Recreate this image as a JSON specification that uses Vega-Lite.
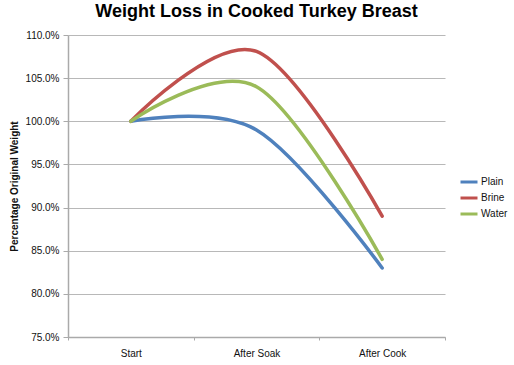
{
  "$schema": "https://vega.github.io/schema/vega-lite/v6.json",
  "width": 377,
  "height": 302,
  "autosize": {"type": "none"},
  "padding": {"left": 68, "top": 35, "right": 69, "bottom": 28},
  "background": "white",
  "title": {
    "text": "Weight Loss in Cooked Turkey Breast",
    "font": "Liberation Sans",
    "fontSize": 18,
    "fontWeight": "bold",
    "color": "#000000",
    "anchor": "middle",
    "offset": 9
  },
  "data": {
    "values": [
      {"stage": "Start", "series": "Plain", "value": 1.0},
      {"stage": "After Soak", "series": "Plain", "value": 0.99},
      {"stage": "After Cook", "series": "Plain", "value": 0.830},
      {"stage": "Start", "series": "Brine", "value": 1.0},
      {"stage": "After Soak", "series": "Brine", "value": 1.081},
      {"stage": "After Cook", "series": "Brine", "value": 0.890},
      {"stage": "Start", "series": "Water", "value": 1.0},
      {"stage": "After Soak", "series": "Water", "value": 1.040},
      {"stage": "After Cook", "series": "Water", "value": 0.840}
    ]
  },
  "mark": {"type": "line", "interpolate": "cardinal", "strokeWidth": 3.5, "strokeCap": "round"},
  "encoding": {
    "x": {
      "field": "stage",
      "type": "nominal",
      "sort": ["Start", "After Soak", "After Cook"],
      "scale": {"type": "band", "paddingInner": 0, "paddingOuter": 0},
      "axis": {
        "title": null,
        "labelAngle": 0,
        "labelFont": "Liberation Sans",
        "labelFontSize": 10,
        "labelColor": "#111111",
        "labelPadding": 8,
        "tickBand": "extent",
        "ticks": true,
        "tickSize": 3,
        "tickColor": "#aaaaaa",
        "domainColor": "#aaaaaa",
        "domainWidth": 1.5,
        "grid": false
      }
    },
    "y": {
      "field": "value",
      "type": "quantitative",
      "scale": {"domain": [0.75, 1.10], "nice": false, "zero": false},
      "axis": {
        "title": "Percentage Original Weight",
        "titleFont": "Liberation Sans",
        "titleFontSize": 10,
        "titleFontWeight": "bold",
        "titleColor": "#111111",
        "titlePadding": 6,
        "format": ".1%",
        "values": [0.75, 0.8, 0.85, 0.9, 0.95, 1.0, 1.05, 1.1],
        "labelFont": "Liberation Sans",
        "labelFontSize": 10,
        "labelColor": "#111111",
        "labelPadding": 4,
        "tickSize": 5,
        "tickColor": "#aaaaaa",
        "domainColor": "#aaaaaa",
        "domainWidth": 1.5,
        "grid": true,
        "gridColor": "#b8b8b8",
        "gridWidth": 1.1
      }
    },
    "color": {
      "field": "series",
      "type": "nominal",
      "sort": ["Plain", "Brine", "Water"],
      "scale": {"domain": ["Plain", "Brine", "Water"], "range": ["#4f81bd", "#c0504d", "#9bbb59"]},
      "legend": {
        "title": null,
        "orient": "none",
        "legendX": 391,
        "legendY": 137,
        "symbolType": "stroke",
        "symbolStrokeWidth": 3,
        "symbolSize": 289,
        "labelFont": "Liberation Sans",
        "labelFontSize": 10,
        "labelColor": "#111111",
        "rowPadding": 0,
        "labelOffset": 2
      }
    }
  },
  "config": {"view": {"stroke": null}}
}
